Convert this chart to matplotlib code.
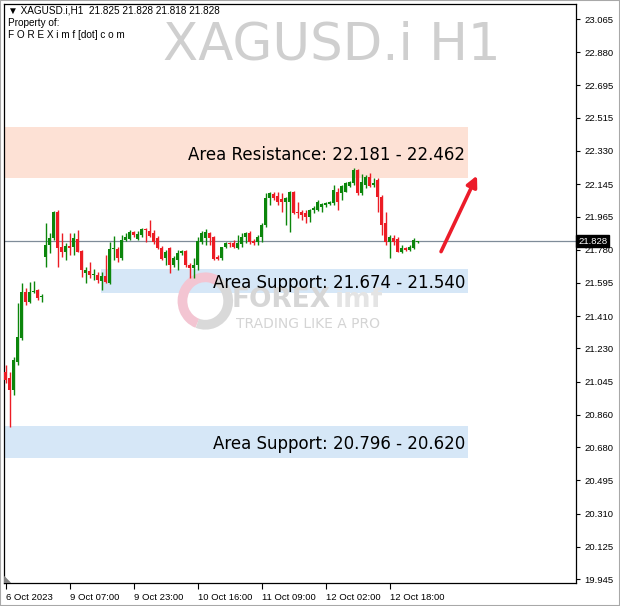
import matplotlib.pyplot as plt
from matplotlib.patches import Rectangle, Arc
from matplotlib.transforms import blended_transform_factory

# hourly candles, XAGUSD.i H1 (6 Oct 2023 -> 12 Oct 2023)
opens = [21.099, 21.065, 20.998, 21.154, 21.288, 21.544, 21.489, 21.544, 21.555, 21.516,
         21.739, 21.806, 21.845, 21.990, 21.795, 21.767, 21.801, 21.795, 21.840, 21.773,
         21.650, 21.661, 21.639, 21.639, 21.606, 21.633, 21.594, 21.784, 21.784, 21.734,
         21.834, 21.840, 21.879, 21.840, 21.862, 21.895, 21.884, 21.873, 21.845, 21.789,
         21.734, 21.789, 21.695, 21.723, 21.762, 21.773, 21.695, 21.678, 21.695, 21.823,
         21.845, 21.873, 21.851, 21.739, 21.734, 21.795, 21.817, 21.817, 21.789, 21.812,
         21.851, 21.873, 21.828, 21.823, 21.851, 21.918, 22.068, 22.090, 22.079, 22.062,
         22.046, 22.046, 22.101, 21.990, 21.990, 21.984, 21.962, 22.001, 22.001, 22.018,
         22.029, 22.035, 22.040, 22.101, 22.096, 22.101, 22.135, 22.152, 22.224, 22.096,
         22.140, 22.185, 22.140, 22.168, 22.074, 21.929, 21.823, 21.845, 21.840, 21.767,
         21.789, 21.778, 21.789, 21.825]
highs = [21.138, 21.099, 21.182, 21.483, 21.594, 21.567, 21.600, 21.606, 21.561, 21.533,
         21.929, 21.873, 21.996, 22.001, 21.873, 21.817, 21.873, 21.873, 21.890, 21.778,
         21.684, 21.711, 21.672, 21.656, 21.656, 21.750, 21.823, 21.856, 21.795, 21.862,
         21.873, 21.890, 21.884, 21.884, 21.901, 21.901, 21.945, 21.890, 21.856, 21.801,
         21.778, 21.795, 21.745, 21.778, 21.778, 21.778, 21.706, 21.734, 21.851, 21.884,
         21.895, 21.879, 21.856, 21.750, 21.795, 21.823, 21.823, 21.834, 21.862, 21.873,
         21.879, 21.884, 21.840, 21.862, 21.929, 22.096, 22.101, 22.101, 22.101, 22.096,
         22.074, 22.107, 22.107, 22.046, 22.001, 22.001, 22.007, 22.023, 22.057, 22.040,
         22.046, 22.051, 22.140, 22.124, 22.140, 22.157, 22.162, 22.235, 22.230, 22.202,
         22.196, 22.207, 22.179, 22.179, 22.085, 21.990, 21.862, 21.862, 21.851, 21.806,
         21.795, 21.806, 21.845, 21.828]
lows = [21.037, 20.792, 20.970, 21.138, 21.277, 21.472, 21.483, 21.539, 21.500, 21.489,
        21.684, 21.762, 21.834, 21.684, 21.739, 21.723, 21.750, 21.750, 21.767, 21.628,
        21.594, 21.622, 21.611, 21.594, 21.555, 21.594, 21.589, 21.723, 21.711, 21.723,
        21.828, 21.834, 21.851, 21.834, 21.851, 21.823, 21.851, 21.812, 21.784, 21.723,
        21.695, 21.650, 21.684, 21.667, 21.750, 21.684, 21.622, 21.622, 21.667, 21.812,
        21.806, 21.806, 21.723, 21.723, 21.723, 21.789, 21.795, 21.789, 21.784, 21.795,
        21.817, 21.812, 21.806, 21.806, 21.823, 21.906, 22.029, 22.057, 22.029, 21.990,
        21.918, 21.879, 21.979, 21.957, 21.945, 21.929, 21.934, 21.984, 21.996, 21.990,
        22.018, 22.029, 22.029, 22.001, 22.057, 22.101, 22.129, 22.140, 22.085, 22.085,
        22.124, 22.129, 22.129, 21.990, 21.862, 21.806, 21.734, 21.806, 21.767, 21.762,
        21.773, 21.773, 21.784, 21.818]
closes = [21.054, 20.998, 21.165, 21.294, 21.544, 21.489, 21.544, 21.550, 21.511, 21.522,
          21.806, 21.845, 21.990, 21.789, 21.767, 21.801, 21.789, 21.845, 21.767, 21.667,
          21.667, 21.639, 21.645, 21.611, 21.633, 21.600, 21.784, 21.789, 21.734, 21.834,
          21.851, 21.879, 21.862, 21.867, 21.895, 21.890, 21.856, 21.823, 21.789, 21.728,
          21.767, 21.695, 21.734, 21.762, 21.773, 21.695, 21.678, 21.695, 21.828, 21.873,
          21.879, 21.845, 21.728, 21.728, 21.795, 21.817, 21.812, 21.795, 21.817, 21.851,
          21.873, 21.823, 21.817, 21.851, 21.918, 22.068, 22.096, 22.068, 22.046, 22.046,
          22.068, 22.101, 21.984, 21.984, 21.973, 21.962, 22.001, 22.012, 22.046, 22.035,
          22.040, 22.046, 22.113, 22.046, 22.135, 22.152, 22.157, 22.224, 22.096, 22.157,
          22.185, 22.135, 22.152, 22.074, 21.918, 21.823, 21.851, 21.823, 21.767, 21.789,
          21.778, 21.795, 21.834, 21.828]

tick_bars = [0, 16, 32, 48, 64, 80, 96]
tick_labels = ['6 Oct 2023', '9 Oct 07:00', '9 Oct 23:00', '10 Oct 16:00',
               '11 Oct 09:00', '12 Oct 02:00', '12 Oct 18:00']
price_ticks = [23.065, 22.880, 22.695, 22.515, 22.330, 22.145, 21.965, 21.780, 21.595,
               21.410, 21.230, 21.045, 20.860, 20.680, 20.495, 20.310, 20.125, 19.945]
last_price = 21.828

zone_lows = [22.181, 21.540, 20.620]
zone_highs = [22.462, 21.674, 20.796]
zone_labels = ['Area Resistance: 22.181 - 22.462',
               'Area Support: 21.674 - 21.540',
               'Area Support: 20.796 - 20.620']
zone_colors = ['#fde1d5', '#d6e7f7', '#d6e7f7']
zone_starts = [-0.4, 23.85, -0.4]

bull = '#0b860b'
bear = '#ec1c24'
font = 'Liberation Sans'

fig = plt.figure(figsize=(6.2, 6.06), dpi=100)
ax = fig.add_axes([4 / 620, 23 / 606, 572 / 620, 579 / 606])

# zones
for lo, hi, col, x0 in zip(zone_lows, zone_highs, zone_colors, zone_starts):
    ax.add_patch(Rectangle((x0, lo), 115.6 - x0, hi - lo, facecolor=col,
                           edgecolor='none', zorder=0))

# watermark logo
ax.add_patch(Arc((0.352, 0.487), 0.08, 0.082, theta1=60, theta2=250,
                 transform=ax.transAxes, color='#f3c5d2', lw=7, zorder=1))
ax.add_patch(Arc((0.352, 0.487), 0.08, 0.082, theta1=250, theta2=420,
                 transform=ax.transAxes, color='#d9d9d9', lw=7, zorder=1))
ax.text(0.398, 0.489, 'FOREX', transform=ax.transAxes, fontsize=19, fontweight='bold',
        color='#d6d6d6', ha='left', va='center', zorder=1)
ax.text(0.578, 0.489, 'imf', transform=ax.transAxes, fontsize=19, fontweight='bold',
        color='#e4e4e4', ha='left', va='center', zorder=1)
ax.text(0.405, 0.448, 'TRADING LIKE A PRO', transform=ax.transAxes, fontsize=10,
        color='#d4d4d4', ha='left', va='center', zorder=1)

for lo, hi, lab in zip(zone_lows, zone_highs, zone_labels):
    ax.text(114.9, (lo + hi) / 2 - 0.012, lab, ha='right', va='center',
            fontsize=12, family='DejaVu Sans', color='black', zorder=6)

# candles
for i, (o, h, l, c) in enumerate(zip(opens, highs, lows, closes)):
    col = bull if c >= o else bear
    ax.vlines(i, l, h, color=col, lw=1, zorder=3)
    ax.bar(i, max(abs(c - o), 0.004), bottom=min(o, c), width=0.7,
           color=col, edgecolor='none', zorder=4)

# last price line + label
ax.axhline(last_price, color='#7f8c99', lw=0.9, zorder=2)
trans = blended_transform_factory(ax.transAxes, ax.transData)
ax.text(1.004, last_price, '21.828', transform=trans, ha='left', va='center',
        fontsize=6.8, family=font, color='white', zorder=10, clip_on=False,
        bbox=dict(boxstyle='square,pad=0.2', facecolor='black', edgecolor='black'))

# arrow
ax.annotate('', xy=(0.829, 0.708), xytext=(0.762, 0.568), xycoords='axes fraction',
            arrowprops=dict(arrowstyle='-|>', color='#ec1c2a', lw=2.6,
                            mutation_scale=16), zorder=7)

# titles / info text
ax.text(0.573, 0.928, 'XAGUSD.i H1', transform=ax.transAxes, ha='center', va='center',
        fontsize=37, color='#cfcfcf', family='DejaVu Sans', zorder=1)
ax.text(0.007, 0.988, '\u25bc XAGUSD.i,H1  21.825 21.828 21.818 21.828',
        transform=ax.transAxes, ha='left', va='center', fontsize=7.2, family=font)
ax.text(0.007, 0.967, 'Property of:', transform=ax.transAxes, ha='left', va='center',
        fontsize=7.2, family=font)
ax.text(0.007, 0.946, 'F O R E X i m f [dot] c o m', transform=ax.transAxes,
        ha='left', va='center', fontsize=7.2, family=font)

ax.set_xlim(-0.4, 142.6)
ax.set_ylim(19.923, 23.149)

ax.yaxis.tick_right()
ax.set_yticks(price_ticks)
ax.set_yticklabels(['%.3f' % p for p in price_ticks])
ax.tick_params(axis='y', direction='out', length=3, width=0.8, pad=3, labelsize=6.8)
ax.set_xticks(tick_bars)
ax.set_xticklabels(tick_labels)
ax.tick_params(axis='x', direction='out', length=4, width=0.8, pad=3, labelsize=6.8)
for lab in ax.get_xticklabels() + ax.get_yticklabels():
    lab.set_family(font)
for lab in ax.get_xticklabels():
    lab.set_ha('left')

for s in ax.spines.values():
    s.set_color('black')
    s.set_linewidth(0.9)

# shift marker in corner
ax.add_patch(plt.Polygon([(0, 0), (0.011, 0), (0, 0.011)], closed=True,
                         transform=ax.transAxes, color='#808080', zorder=5))

fig.patches.append(Rectangle((0, 0), 1, 1, transform=fig.transFigure, fill=False,
                             edgecolor='#a8a8a8', lw=1.5))

plt.savefig('out.png', dpi=100)
